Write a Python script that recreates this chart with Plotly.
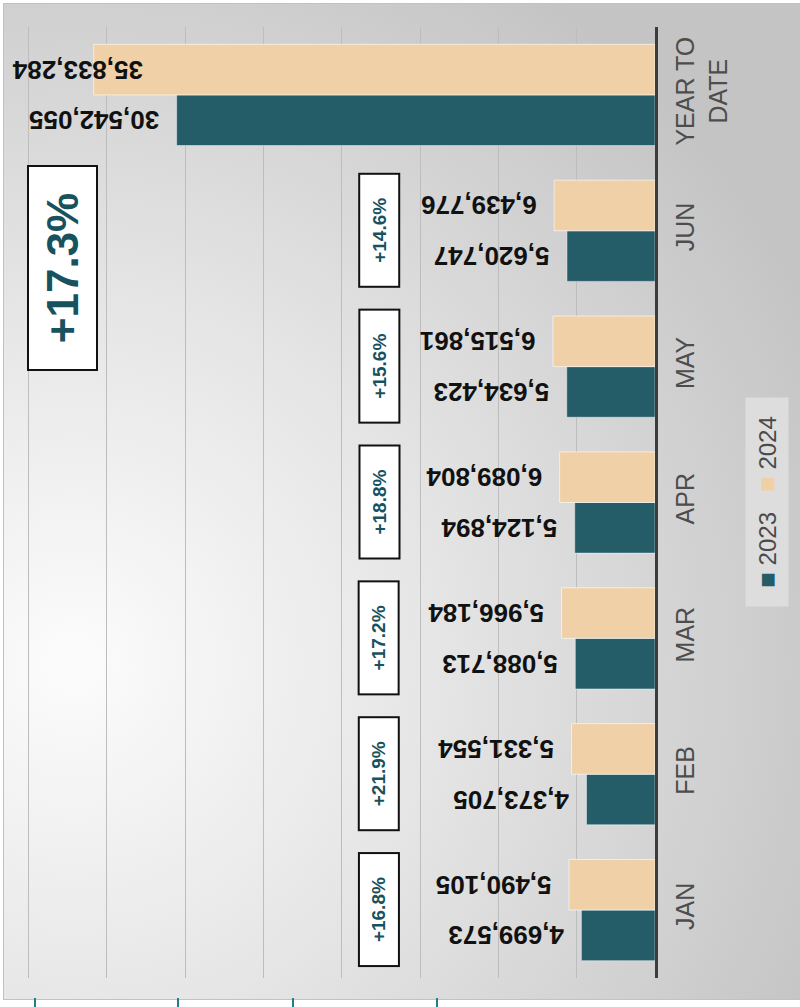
import base64
import plotly.graph_objects as go

# ---------------- data ----------------
categories = ["JAN", "FEB", "MAR", "APR", "MAY", "JUN", "YEAR TO<br>DATE"]
series_names = ["2023", "2024"]
sales_2023 = [4699573, 4373705, 5088713, 5124894, 5634423, 5620747, 30542055]
sales_2024 = [5490105, 5331554, 5966184, 6089804, 6515861, 6439776, 35833284]

# ---------------- styles ----------------
C23 = "#245c68"
C24 = "#f0d0a6"
TEAL_TXT = "#17525e"
FONT = "Liberation Sans, Arial, sans-serif"
W, H = 800, 1007

pct = [f"+{(b / a - 1) * 100:.1f}%" for a, b in zip(sales_2023, sales_2024)]
NB = "\u00a0\u00a0"
txt23 = [NB + f"{v:,}" for v in sales_2023]
txt24 = [NB + f"{v:,}" for v in sales_2024[:-1]] + [""]

# background panel (radial gradient) as svg image
svg = f"""<svg xmlns='http://www.w3.org/2000/svg' width='797' height='997' viewBox='0 0 797 997'>
<defs><radialGradient id='g' gradientUnits='userSpaceOnUse' cx='70' cy='660' r='820'>
<stop offset='0' stop-color='#fcfcfc'/><stop offset='0.45' stop-color='#e5e5e5'/>
<stop offset='1' stop-color='#c4c4c4'/></radialGradient></defs>
<rect x='0.5' y='0.5' width='800' height='996' fill='url(#g)' stroke='#c2c2c2' stroke-width='1'/>
</svg>"""
src = "data:image/svg+xml;base64," + base64.b64encode(svg.encode()).decode()

fig = go.Figure()
fig.add_trace(go.Bar(
    y=categories, x=sales_2023, name=series_names[0], orientation="h",
    marker=dict(color=C23, line=dict(color="rgba(255,255,255,0.45)", width=1)),
    text=txt23, textposition="outside", textangle=180, constraintext="none",
    textfont=dict(family=FONT, size=26, color="#111111", weight="bold"),
    cliponaxis=False,
))
fig.add_trace(go.Bar(
    y=categories, x=sales_2024, name=series_names[1], orientation="h",
    marker=dict(color=C24, line=dict(color="rgba(255,255,255,0.6)", width=1)),
    text=txt24, textposition="outside", textangle=180, constraintext="none",
    textfont=dict(family=FONT, size=26, color="#111111", weight="bold"),
    cliponaxis=False,
))

annotations = []
# YTD 2024 label, kept inside the panel
annotations.append(dict(
    x=10 / W, xref="paper", xanchor="left", y=categories[-1], yref="y", yshift=25,
    yanchor="middle", text=f"<b>{sales_2024[-1]:,}</b>", textangle=180, showarrow=False,
    font=dict(family=FONT, size=26, color="#111111"),
))
# percentage boxes
for c, p in zip(categories[:-1], pct[:-1]):
    annotations.append(dict(
        x=379 / W, xref="paper", y=c, yref="y", xanchor="center", yanchor="middle",
        text=f"<b>{p}</b>", textangle=-90,
        showarrow=False, bgcolor="white", bordercolor="#111111", borderwidth=2,
        borderpad=0, width=111, height=38,
        font=dict(family=FONT, size=19, color=TEAL_TXT),
    ))
annotations.append(dict(
    x=63 / W, xref="paper", y=1 - 268 / H, yref="paper", xanchor="center",
    yanchor="middle", text=f"<b>{pct[-1]}</b>",
    textangle=-90, showarrow=False, bgcolor="white", bordercolor="#111111",
    borderwidth=2, borderpad=0, width=202, height=67,
    font=dict(family=FONT, size=44, color=TEAL_TXT),
))
# legend
sq = "<span style='font-size:26px;color:{c}'>■</span>"
legend_txt = (sq.format(c=C23) + "\u00a0" + series_names[0] + "\u00a0\u00a0\u00a0"
              + sq.format(c=C24) + "\u00a0" + series_names[1])
annotations.append(dict(
    x=767 / W, xref="paper", y=1 - 502 / H, yref="paper", xanchor="center",
    yanchor="middle", text=legend_txt,
    textangle=-90, showarrow=False, bgcolor="#dddddd", borderpad=0,
    width=208, height=42, font=dict(family=FONT, size=24, color="#4a4a4a"),
))

shapes = []
for px in [35, 178, 293, 437]:
    shapes.append(dict(type="line", xref="paper", yref="paper",
                       x0=px / W, x1=px / W, y0=0, y1=9 / H,
                       line=dict(color="#2b7b86", width=2)))

fig.update_layout(
    width=W, height=H, margin=dict(l=0, r=0, t=0, b=0),
    paper_bgcolor="white", plot_bgcolor="rgba(0,0,0,0)",
    showlegend=False, barmode="group", bargap=0.255, bargroupgap=0.0,
    font=dict(family=FONT, color="#444444"),
    annotations=annotations, shapes=shapes,
    images=[dict(source=src, xref="paper", yref="paper", x=3 / W, y=1 - 3 / H,
                 sizex=797 / W, sizey=997 / H, sizing="stretch", layer="below",
                 xanchor="left", yanchor="top")],
    xaxis=dict(domain=[5 / W, 655 / W], range=[41.5e6, 0], dtick=5e6,
               showticklabels=False, showgrid=True, gridcolor="#bdbdbd",
               gridwidth=1, zeroline=False, showline=False, ticks=""),
    yaxis=dict(domain=[1 - 978 / H, 1 - 27 / H], type="category", side="right",
               showline=True, linecolor="#3c3c3c", linewidth=3, showgrid=False,
               ticks="", tickangle=-90, ticklabelstandoff=6,
               tickfont=dict(family=FONT, size=25, color="#4d4d4d")),
)

fig.write_html("out.html", config={"displayModeBar": False},
               post_script="document.body.style.margin='0px';")
